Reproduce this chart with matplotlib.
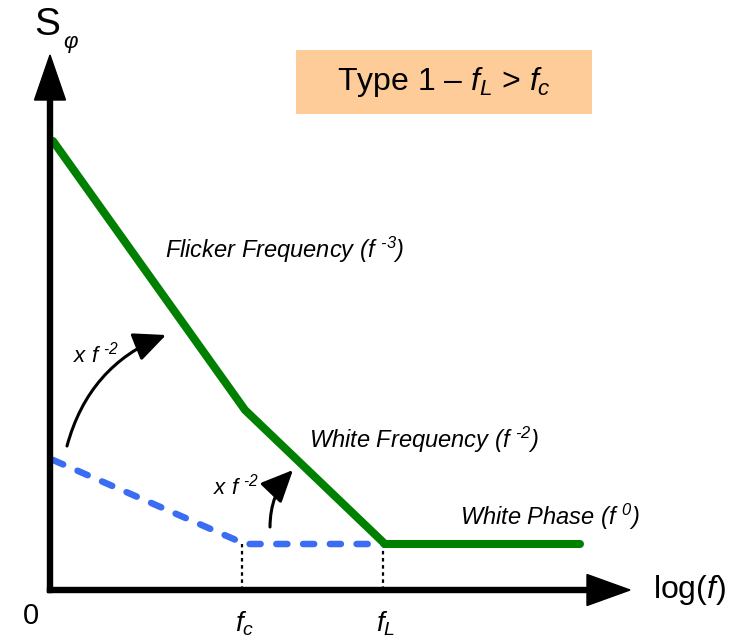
import matplotlib
matplotlib.use("Agg")
import matplotlib.pyplot as plt
from matplotlib.patches import FancyArrow, FancyBboxPatch

plt.rcParams['font.family'] = ['Liberation Sans', 'DejaVu Sans']
plt.rcParams['mathtext.fontset'] = 'custom'
plt.rcParams['mathtext.rm'] = 'Liberation Sans'
plt.rcParams['mathtext.it'] = 'Liberation Sans:italic'
plt.rcParams['mathtext.default'] = 'regular'

# asymptotes of the phase noise spectrum, in log(f) / log(S) units
log_f_green = [0.06, 3.9, 6.7, 10.6]
log_s_green = [8.98, 3.6, 0.92, 0.92]
log_f_blue = [0.06, 3.9, 6.7]
log_s_blue = [2.6, 0.92, 0.92]

f_c = 3.84
f_L = 6.66
floor = 0.92

green = '#008000'
blue = '#3a6cf4'

fig = plt.figure(figsize=(7.4, 6.41), dpi=100)
ax = fig.add_axes([0, 0, 1, 1])
ax.set_xlim(-1.0, 13.8)
ax.set_ylim(-1.02, 11.8)
ax.axis('off')

# axes with arrow heads
ax.add_patch(FancyArrow(-0.05, 0, 11.65, 0, width=0.1, head_width=0.62,
                        head_length=0.86, length_includes_head=True,
                        color='black', zorder=5))
ax.add_patch(FancyArrow(0, -0.05, 0, 10.75, width=0.1, head_width=0.62,
                        head_length=0.9, length_includes_head=True,
                        color='black', zorder=5))

# dotted markers for the corner frequencies
ax.plot([f_c, f_c], [0, floor], color='black', lw=1.6, ls=(0, (1.6, 1.6)))
ax.plot([f_L, f_L], [0, floor], color='black', lw=1.6, ls=(0, (1.6, 1.6)))

ax.plot(log_f_blue, log_s_blue, color=blue, lw=4.7, ls=(0, (1.7, 2.4)),
        dash_capstyle='round', zorder=3)
ax.plot(log_f_green, log_s_green, color=green, lw=5.8,
        solid_capstyle='round', solid_joinstyle='miter', zorder=4)

# curved arrows showing the multiplication by f^-2
head = '-|>,head_length=1.1,head_width=0.5'
ax.annotate('', xy=(2.32, 5.1), xytext=(0.34, 2.88),
            arrowprops=dict(arrowstyle=head, mutation_scale=18, lw=2.2,
                            color='black', shrinkA=0, shrinkB=0,
                            connectionstyle='arc3,rad=-0.25'))
ax.annotate('', xy=(4.86, 2.4), xytext=(4.4, 1.26),
            arrowprops=dict(arrowstyle=head, mutation_scale=18, lw=2.2,
                            color='black', shrinkA=0, shrinkB=0,
                            connectionstyle='arc3,rad=-0.2'))

hy = '\u2010'
ax.text(0.46, 4.7, 'x f $^{' + hy + '2}$', fontsize=16, style='italic',
        va='center')
ax.text(3.26, 2.06, 'x f $^{' + hy + '2}$', fontsize=16, style='italic',
        va='center')

ax.text(2.3, 6.8, 'Flicker Frequency (f $^{' + hy + '3}$)', fontsize=17,
        style='italic', va='center')
ax.text(5.18, 3.0, 'White Frequency (f $^{' + hy + '2}$)', fontsize=17,
        style='italic', va='center')
ax.text(8.2, 1.46, 'White Phase (f $^{0}$)', fontsize=17,
        style='italic', va='center')

# axis labels
ax.text(12.06, 0.0, 'log($\\mathit{f}$)', fontsize=23, va='center')
ax.text(-0.54, -0.52, '0', fontsize=21, va='center')
ax.text(f_c + 0.05, -0.68, '$\\mathit{f_c}$', fontsize=20, va='center',
        ha='center')
ax.text(f_L + 0.05, -0.68, '$\\mathit{f_L}$', fontsize=20, va='center',
        ha='center')
ax.text(-0.32, 11.3, 'S', fontsize=28, va='center')
ax.text(0.26, 10.92, '$\\mathit{\\varphi}$', fontsize=16, va='center')

# title box
ax.add_patch(FancyBboxPatch((4.92, 9.52), 5.92, 1.28,
                            boxstyle='square,pad=0', facecolor='#fdcc99',
                            edgecolor='none'))
ax.text(7.88, 10.16, 'Type 1 – $\\mathit{f_L}$ > $\\mathit{f_c}$',
        fontsize=23, ha='center', va='center')

fig.savefig('out.png', dpi=100)
